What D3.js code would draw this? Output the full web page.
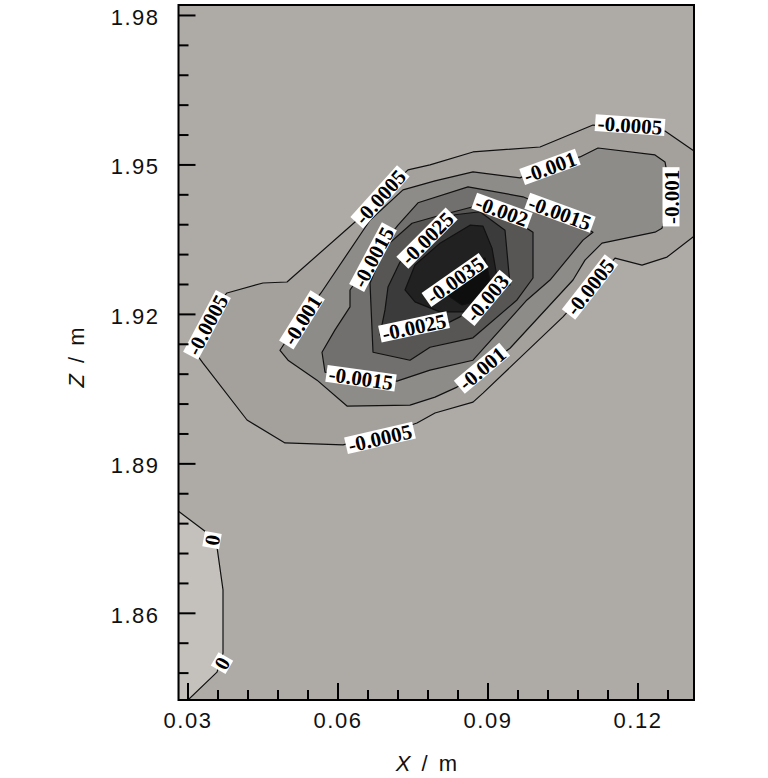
<!DOCTYPE html>
<html><head><meta charset="utf-8">
<script src="https://cdn.jsdelivr.net/npm/d3@7/dist/d3.min.js"></script>
<style>
body{margin:0;background:#fff;}
svg{display:block;}
</style></head><body>
<svg id="chart" width="768" height="778"></svg>
<script>
// ---------- data ----------
const xTicks = [0.03, 0.06, 0.09, 0.12];
const zTicks = [1.86, 1.89, 1.92, 1.95, 1.98];
const xMinorTicks = [0.036,0.042,0.048,0.054,0.066,0.072,0.078,0.084,0.096,0.102,0.108,0.114,0.126];
const zMinorTicks = [1.848,1.854,1.866,1.872,1.878,1.884,1.896,1.902,1.908,1.914,1.926,1.932,1.938,1.944,1.956,1.962,1.968,1.974];
const xDomain = [0.0282, 0.1313];
const zDomain = [1.8425, 1.9820];

// contour levels (region enclosed is beyond the level)
const levels = [0, -0.0005, -0.001, -0.0015, -0.002, -0.0025, -0.003, -0.0035];

const contourPos = [[0.0282,1.8804],[0.0345,1.8756],[0.0359,1.8732],[0.0371,1.8646],[0.0371,1.8519],[0.0359,1.8481],[0.0301,1.8425],[0.0282,1.8425]];
const contour0005 = [[0.1313,1.9527],[0.1255,1.9567],[0.1185,1.9573],[0.1111,1.9579],[0.1005,1.9535],[0.0871,1.9525],[0.0785,1.9499],[0.0741,1.9489],[0.0689,1.9439],[0.0639,1.9388],[0.0499,1.9264],[0.0451,1.9262],[0.0379,1.9242],[0.0335,1.9192],[0.0305,1.9137],[0.0331,1.9101],[0.0419,1.8987],[0.0495,1.8941],[0.0611,1.8937],[0.0685,1.8955],[0.0759,1.8981],[0.0795,1.9001],[0.0871,1.9023],[0.0891,1.9041],[0.1051,1.9194],[0.1105,1.9254],[0.1155,1.9312],[0.1209,1.9298],[0.1259,1.9314],[0.1313,1.9356]];
const contour0010 = [[0.1121,1.9533],[0.1235,1.9519],[0.1255,1.9505],[0.1267,1.9439],[0.1249,1.9372],[0.1235,1.9364],[0.1129,1.9342],[0.1095,1.9308],[0.1071,1.9268],[0.0945,1.9131],[0.0891,1.9091],[0.0839,1.9053],[0.0795,1.9033],[0.0745,1.9017],[0.0619,1.9015],[0.0559,1.9067],[0.0501,1.9107],[0.0485,1.9127],[0.0525,1.9188],[0.0567,1.9242],[0.0665,1.9388],[0.0731,1.9449],[0.0795,1.9467],[0.0871,1.9485],[0.0965,1.9473],[0.1025,1.9499],[0.1085,1.9515]];
const contour0015 = [[0.0575,1.9083],[0.0569,1.9123],[0.0595,1.9168],[0.0625,1.9214],[0.0625,1.9248],[0.0669,1.9312],[0.0721,1.9378],[0.0761,1.9423],[0.0861,1.9455],[0.0971,1.9435],[0.1045,1.9403],[0.1111,1.9364],[0.1091,1.9348],[0.1025,1.9268],[0.0979,1.9228],[0.0871,1.9107],[0.0785,1.9087],[0.0719,1.9065],[0.0647,1.9071]];
const contour0020 = [[0.0671,1.9123],[0.0665,1.9262],[0.0695,1.9334],[0.0749,1.9382],[0.0795,1.9395],[0.0871,1.9415],[0.0931,1.9403],[0.0991,1.9364],[0.0991,1.9272],[0.0959,1.9228],[0.0871,1.9152],[0.0785,1.9133],[0.0745,1.9107]];
const contour0025 = [[0.0685,1.9158],[0.0695,1.9208],[0.0701,1.9254],[0.0725,1.9304],[0.0765,1.9348],[0.0835,1.9399],[0.0885,1.9405],[0.0935,1.9368],[0.0945,1.9258],[0.0899,1.9242],[0.0845,1.9194],[0.0825,1.9184],[0.0755,1.9168]];
const contour0030 = [[0.0735,1.9248],[0.0755,1.9298],[0.0805,1.9342],[0.0865,1.9378],[0.0891,1.9376],[0.0909,1.9332],[0.0919,1.9274],[0.0905,1.9228],[0.0865,1.9204],[0.0805,1.9204],[0.0755,1.9224]];
const contour0035 = [[0.0805,1.9248],[0.0865,1.9304],[0.0895,1.9312],[0.0905,1.9268],[0.0889,1.9228],[0.0849,1.9218]];

const labelValues = [-0.0005,-0.0005,-0.0005,-0.0005,-0.0005,-0.001,-0.001,-0.001,-0.001,-0.0015,-0.0015,-0.0015,-0.002,-0.0025,-0.0025,-0.003,-0.0035,0,0];
const labelX = [0.1185,0.0685,0.0339,0.0685,0.1105,0.1025,0.1267,0.0529,0.0889,0.1045,0.0671,0.0647,0.0929,0.0779,0.0753,0.0899,0.0835,0.0349,0.0369];
const labelZ = [1.9579,1.9435,1.9178,1.8951,1.9254,1.9495,1.9435,1.9188,1.9091,1.9403,1.9314,1.9071,1.9407,1.9352,1.9174,1.9232,1.9268,1.8746,1.8499];

// ---------- style ----------
const labelAngle = [4,-48,-62,-13,-52,-20,-90,-58,-40,20,-62,8,20,-45,-12,-50,-35,-80,-60];
const bgFill = "#aeaba7";
const contourFills = ["#c4c1bc","#a4a19d","#8e8c89","#72706e","#575655","#3c3b3b","#222121","#0e0e0e"];
const plot = {left:178.5, right:694, top:5, bottom:700};

// ---------- drawing ----------
const svg = d3.select("#chart");
const x = d3.scaleLinear().domain(xDomain).range([plot.left, plot.right]);
const y = d3.scaleLinear().domain(zDomain).range([plot.bottom, plot.top]);

svg.append("defs").append("clipPath").attr("id","clip")
  .append("rect").attr("x",plot.left).attr("y",plot.top)
  .attr("width",plot.right-plot.left).attr("height",plot.bottom-plot.top);

const g = svg.append("g").attr("clip-path","url(#clip)");
g.append("rect").attr("x",plot.left).attr("y",plot.top)
  .attr("width",plot.right-plot.left).attr("height",plot.bottom-plot.top)
  .attr("fill",bgFill);

const polys = [contourPos, contour0005, contour0010, contour0015, contour0020, contour0025, contour0030, contour0035];
const path = d3.line().x(d=>x(d[0])).y(d=>y(d[1])).curve(d3.curveLinearClosed);
g.selectAll("path.contour").data(polys).join("path")
  .attr("class","contour")
  .attr("d", path)
  .attr("fill",(d,i)=>contourFills[i])
  .attr("stroke","#111")
  .attr("stroke-width",1.2)
  .attr("stroke-linejoin","round");

// labels
const lg = g.append("g");
labelValues.forEach((v,i)=>{
  const t = lg.append("g").attr("transform",`translate(${x(labelX[i])},${y(labelZ[i])}) rotate(${labelAngle[i]})`);
  const r = t.append("rect").attr("fill","#fff");
  const tx = t.append("text").text(String(v))
    .attr("text-anchor","middle").attr("y",7.5)
    .attr("font-family","'Liberation Serif','Times New Roman',serif")
    .attr("font-weight","bold").attr("font-size",21).attr("fill","#000");
  const w = tx.node().getComputedTextLength() + 5;
  r.attr("x",-w/2).attr("y",-8.5).attr("width",w).attr("height",17);
});

// axes
const axFont = "'Liberation Sans',Arial,sans-serif";
const yAxis = svg.append("g").attr("transform",`translate(${plot.left},0)`)
  .call(d3.axisLeft(y).tickValues(zTicks).tickFormat(d3.format(".2f")).tickSize(-17).tickPadding(19));
const yMinor = svg.append("g").attr("transform",`translate(${plot.left},0)`)
  .call(d3.axisLeft(y).tickValues(zMinorTicks).tickFormat("").tickSize(-10));
const xAxis = svg.append("g").attr("transform",`translate(0,${plot.bottom})`)
  .call(d3.axisBottom(x).tickValues(xTicks).tickFormat(d3.format(".2f")).tickSize(-17).tickPadding(12));
const xMinor = svg.append("g").attr("transform",`translate(0,${plot.bottom})`)
  .call(d3.axisBottom(x).tickValues(xMinorTicks).tickFormat("").tickSize(-10));
[yAxis,yMinor,xAxis,xMinor].forEach(a=>{
  a.select(".domain").remove();
  a.selectAll(".tick line").attr("stroke","#000").attr("stroke-width",2);
  a.selectAll(".tick text").attr("font-family",axFont).attr("font-size",22)
    .attr("letter-spacing","1.5px").attr("fill","#111");
});
yAxis.selectAll(".tick text").attr("dy","0.42em");

// frame
svg.append("rect").attr("x",plot.left).attr("y",plot.top)
  .attr("width",plot.right-plot.left).attr("height",plot.bottom-plot.top)
  .attr("fill","none").attr("stroke","#000").attr("stroke-width",2);

// titles
const xt = svg.append("text").attr("x",427).attr("y",771).attr("text-anchor","middle")
  .attr("font-family",axFont).attr("font-size",22).attr("letter-spacing","1px").attr("word-spacing","3px").attr("fill","#111");
xt.append("tspan").attr("font-style","italic").text("X");
xt.append("tspan").text(" / m");
const yt = svg.append("text").attr("transform","translate(84,357) rotate(-90)").attr("text-anchor","middle")
  .attr("font-family",axFont).attr("font-size",22).attr("letter-spacing","1px").attr("word-spacing","3px").attr("fill","#111");
yt.append("tspan").attr("font-style","italic").text("Z");
yt.append("tspan").text(" / m");
</script>
</body></html>
